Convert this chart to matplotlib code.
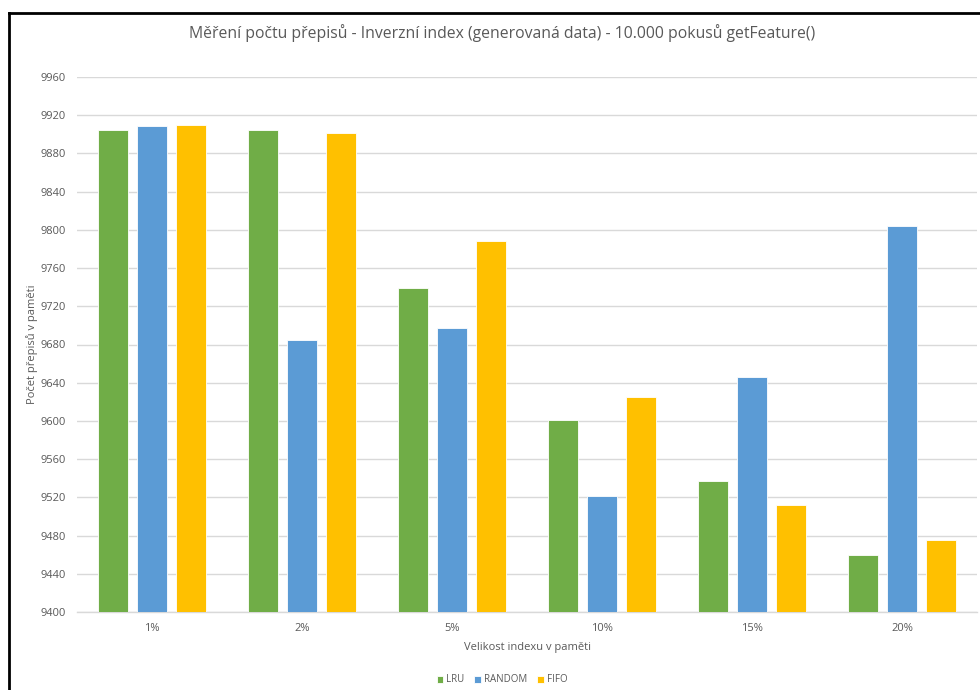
import numpy as np
import matplotlib.pyplot as plt
from matplotlib.lines import Line2D

plt.rcParams['font.family'] = ['Open Sans', 'DejaVu Sans']

categories = ['1%', '2%', '5%', '10%', '15%', '20%']
lru = [9905, 9905, 9739, 9601, 9537, 9460]
random_ = [9909, 9685, 9697, 9521, 9646, 9804]
fifo = [9910, 9901, 9788, 9625, 9512, 9475]

series = [('LRU', lru, '#70AD47'), ('RANDOM', random_, '#5B9BD5'), ('FIFO', fifo, '#FFC000')]

W, H = 980, 690
fig = plt.figure(figsize=(W / 100, H / 100), dpi=100)
ax = fig.add_axes([77 / W, (H - 612) / H, 900 / W, 535 / H])

x = np.arange(len(categories))
width = 0.2
step = 0.257
base = 9400
for i, (name, vals, col) in enumerate(series):
    vals = np.array(vals)
    ax.bar(x + (i - 1) * step, vals - base, width, bottom=base, color=col,
           edgecolor='white', linewidth=0.6, label=name, zorder=3)

ax.set_xlim(-0.5, len(categories) - 0.5)
ax.set_ylim(9400, 9960)
ax.set_yticks(np.arange(9400, 9961, 40))
ax.set_xticks(x)
ax.set_xticklabels(categories)
ax.tick_params(axis='both', length=0, labelsize=8, colors='#595959')
ax.tick_params(axis='y', pad=8)
ax.tick_params(axis='x', pad=8)
ax.grid(axis='y', color='#D9D9D9', linewidth=1, zorder=0)
for s in ['top', 'right', 'left']:
    ax.spines[s].set_visible(False)
ax.spines['bottom'].set_color('#D9D9D9')
ax.spines['bottom'].set_linewidth(1)

ax.set_ylabel('Počet přepisů v paměti', fontsize=8, color='#595959')
ax.yaxis.set_label_coords((38 - 77) / 900, 0.5)
ax.set_xlabel('Velikost indexu v paměti', fontsize=8, color='#595959', labelpad=6)

fig.text(502 / W, 1 - 33 / H, 'Měření počtu přepisů - Inverzní index (generovaná data) - 10.000 pokusů getFeature()',
         ha='center', va='center', fontsize=11.3, color='#595959')

fig.legend(loc='center', bbox_to_anchor=(502 / W, 1 - 680 / H), ncol=3, frameon=False,
           fontsize=7, labelcolor='#595959', handlelength=0.7, handleheight=0.7,
           handletextpad=0.3, columnspacing=1.0)

# outer frame
fig.add_artist(Line2D([9 / W, 1], [1 - 13 / H, 1 - 13 / H], color='black', linewidth=2))
fig.add_artist(Line2D([9 / W, 9 / W], [0, 1 - 13 / H], color='black', linewidth=2))

fig.savefig('out.png', dpi=100)
